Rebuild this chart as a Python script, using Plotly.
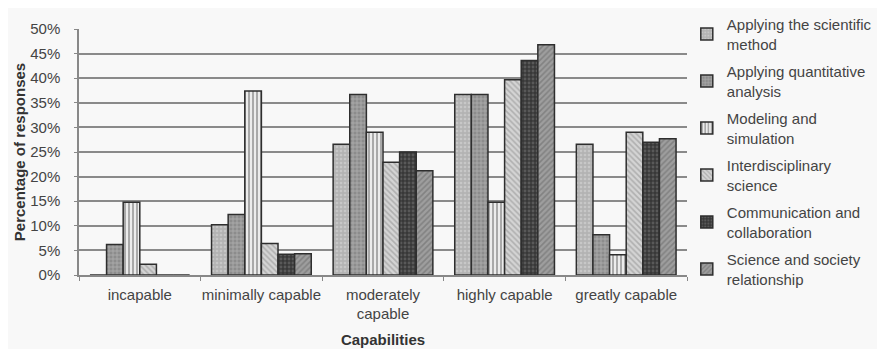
import plotly.graph_objects as go

categories = ["incapable", "minimally capable", "moderately<br>capable", "highly capable", "greatly capable"]

series_names = [
    "Applying the scientific<br>method",
    "Applying quantitative<br>analysis",
    "Modeling and<br>simulation",
    "Interdisciplinary<br>science",
    "Communication and<br>collaboration",
    "Science and society<br>relationship",
]

scientific_method = [0, 10.2, 26.6, 36.7, 26.6]
quantitative_analysis = [6.2, 12.3, 36.7, 36.7, 8.2]
modeling_simulation = [14.8, 37.4, 29.0, 14.8, 4.1]
interdisciplinary = [2.2, 6.4, 22.9, 39.7, 29.0]
communication = [0, 4.2, 25.0, 43.6, 27.0]
science_society = [0, 4.3, 21.2, 46.8, 27.7]

y_ticks = [0, 5, 10, 15, 20, 25, 30, 35, 40, 45, 50]
y_ticklabels = [f"{v}%" for v in y_ticks]

all_values = [scientific_method, quantitative_analysis, modeling_simulation,
              interdisciplinary, communication, science_society]

styles = [
    dict(bg="#b3b3b3", fg="#dcdcdc", shape=".", size=4, sol=0.35),
    dict(bg="#8c8c8c", fg="#d4d4d4", shape="+", size=4, sol=0.35),
    dict(bg="#ececec", fg="#555555", shape="|", size=4, sol=0.45),
    dict(bg="#d4d4d4", fg="#8a8a8a", shape="\\", size=4, sol=0.4),
    dict(bg="#383838", fg="#7a7a7a", shape=".", size=4, sol=0.4),
    dict(bg="#9e9e9e", fg="#666666", shape="/", size=4, sol=0.4),
]

fig = go.Figure()
for i, (name, vals, st) in enumerate(zip(series_names, all_values, styles)):
    fig.add_trace(go.Bar(
        x=categories, y=vals, name=name, legendgroup=f"g{i}",
        marker=dict(
            color=st["bg"],
            line=dict(color="#2e2e2e", width=1.5),
            pattern=dict(shape=st["shape"], bgcolor=st["bg"], fgcolor=st["fg"],
                         size=st["size"], solidity=st["sol"], fillmode="overlay"),
        ),
    ))

fig.update_layout(
    width=885, height=349,
    margin=dict(l=71, r=206, t=21, b=82, autoexpand=False),
    paper_bgcolor="#f8f8f8",
    plot_bgcolor="#f8f8f8",
    barmode="group",
    bargap=0.18,
    bargroupgap=0,
    font=dict(family="Liberation Sans, Arial, sans-serif", size=15, color="#444444"),
    legend=dict(
        xref="container", yref="container",
        x=0.767, xanchor="left", y=1.023, yanchor="top",
        font=dict(size=15, color="#444444"),
        bgcolor="rgba(0,0,0,0)",
        traceorder="grouped",
        tracegroupgap=5,
        maxheight=400,
    ),
    xaxis=dict(
        title=dict(text="<b>Capabilities</b>", font=dict(size=15, color="#333333"), standoff=13),
        showline=True, linecolor="#888888", linewidth=1.5,
        ticks="outside", tickson="boundaries", ticklen=4, tickcolor="#888888",
        ticklabelstandoff=5,
        showgrid=False,
        tickangle=0,
        automargin=False,
    ),
    yaxis=dict(
        title=dict(text="<b>Percentage of responses</b>", font=dict(size=15, color="#333333"), standoff=1),
        range=[0, 50],
        tickvals=y_ticks, ticktext=y_ticklabels,
        showline=True, linecolor="#888888", linewidth=1.5,
        ticks="outside", ticklen=3, tickcolor="#888888",
        ticklabelstandoff=11,
        showgrid=True, gridcolor="#8a8a8a", gridwidth=1.5,
        zeroline=False,
        automargin=False,
    ),
)

fig.write_html("out.html")
